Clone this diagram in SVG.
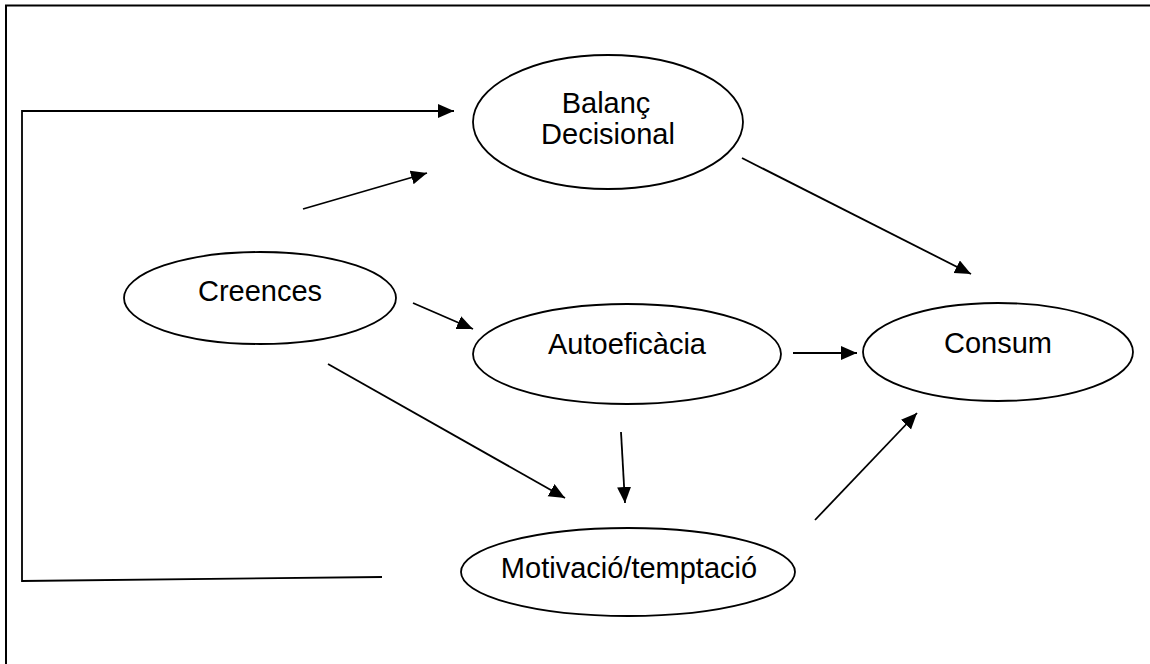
<svg xmlns="http://www.w3.org/2000/svg" width="1150" height="664" viewBox="0 0 1150 664">
<style>
.node ellipse{fill:#fff;stroke:#000;stroke-width:1.8}
.node text{font-family:"Liberation Sans",Arial,sans-serif;font-size:29px;fill:#000;text-anchor:middle}
.conn line,.conn polyline{fill:none;stroke:#000;stroke-width:1.8}
.frame{fill:none;stroke:#000;stroke-width:2}
</style>
<defs>
<marker id="arr" markerUnits="userSpaceOnUse" markerWidth="17" markerHeight="15" refX="16" refY="7" orient="auto">
<path d="M0,0 L16,7 L0,14 z" fill="#000"/>
</marker>
</defs>
<rect width="1150" height="664" fill="#fff"/>
<polyline class="frame" points="6,664 6,5.5 1150,5.5"/>
<g class="conn">
<polyline points="382,577 22,581 22,111 454,111" marker-end="url(#arr)"/>
<line x1="303" y1="209" x2="427" y2="173" marker-end="url(#arr)"/>
<line x1="413" y1="303" x2="473" y2="329" marker-end="url(#arr)"/>
<line x1="328" y1="364" x2="565" y2="498" marker-end="url(#arr)"/>
<line x1="621" y1="432" x2="625" y2="503" marker-end="url(#arr)"/>
<line x1="793" y1="353" x2="857" y2="353" marker-end="url(#arr)"/>
<line x1="742" y1="158" x2="971" y2="274" marker-end="url(#arr)"/>
<line x1="815" y1="520" x2="917" y2="413" marker-end="url(#arr)"/>
</g>
<g id="balanc" class="node">
<ellipse cx="608" cy="122" rx="135" ry="67"/>
<text x="606" y="113">Balanç</text>
<text x="608" y="144">Decisional</text>
</g>
<g id="creences" class="node">
<ellipse cx="260" cy="298" rx="136" ry="46"/>
<text x="260" y="301">Creences</text>
</g>
<g id="autoeficacia" class="node">
<ellipse cx="627" cy="354" rx="154" ry="50"/>
<text x="627" y="354">Autoeficàcia</text>
</g>
<g id="consum" class="node">
<ellipse cx="998" cy="352" rx="135" ry="49"/>
<text x="998" y="353">Consum</text>
</g>
<g id="motivacio" class="node">
<ellipse cx="628" cy="572" rx="167" ry="44"/>
<text x="629" y="578">Motivació/temptació</text>
</g>
</svg>
